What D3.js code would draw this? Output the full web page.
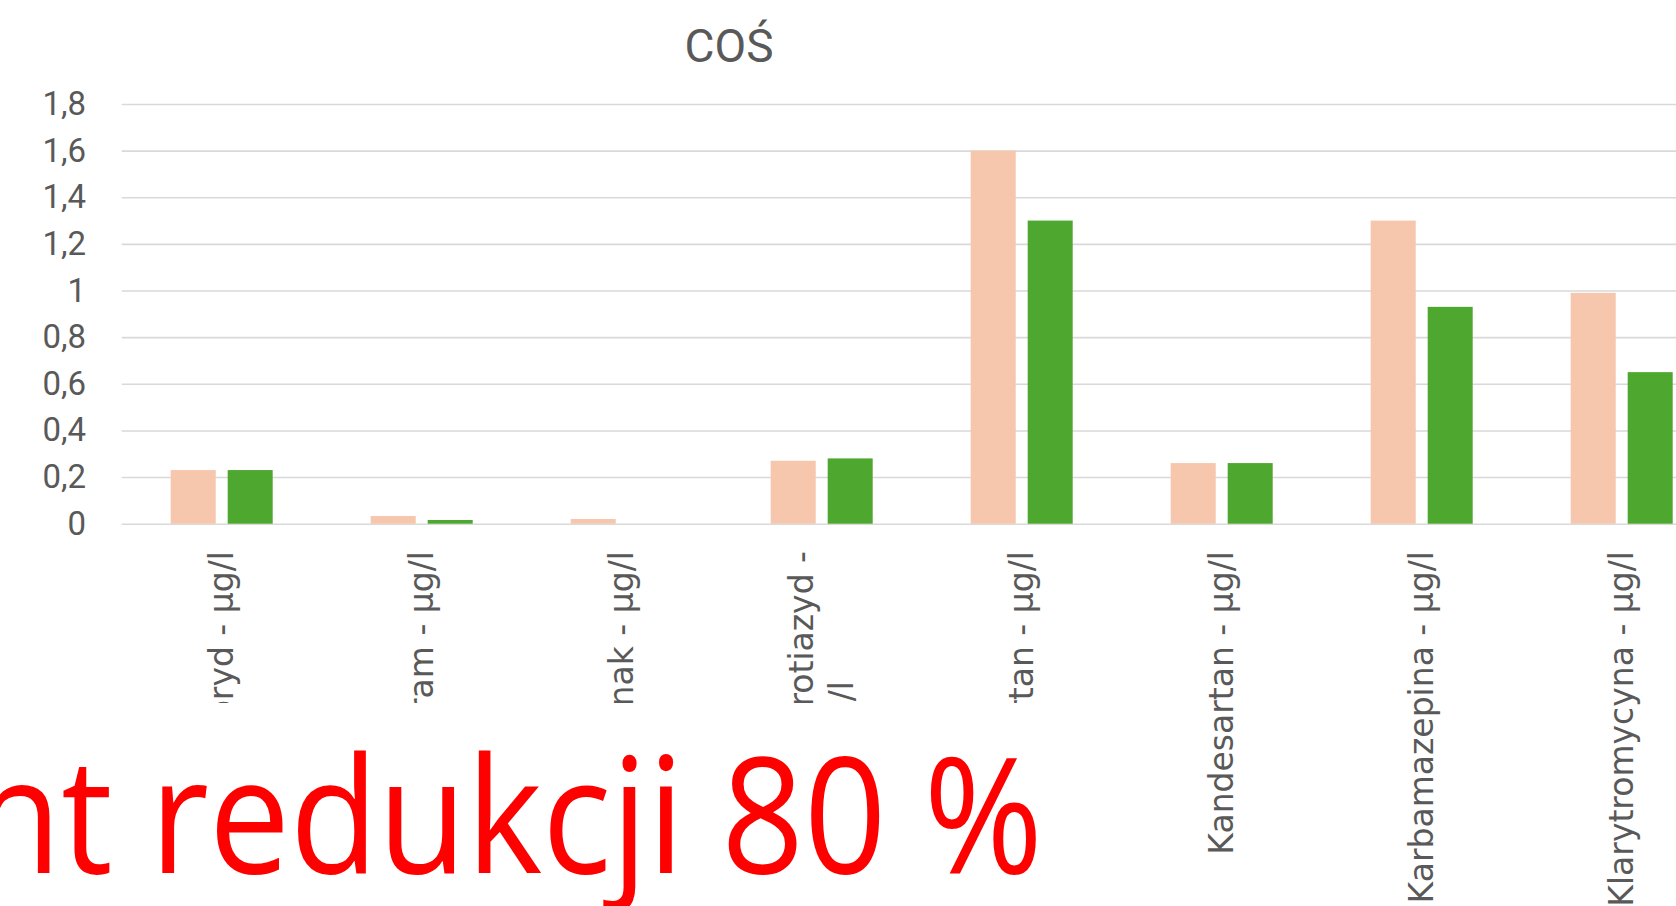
<!DOCTYPE html>
<html>
<head>
<meta charset="utf-8">
<script src="https://d3js.org/d3.v7.min.js"></script>
<style>
  body { margin: 0; background: #fff; }
  svg { display: block; }
</style>
</head>
<body>
<div id="chart"></div>
<script>
// data
var categories = ["Amisulpryd - µg/l", "Citalopram - µg/l", "Diklofenak - µg/l",
                  "Hydrochlorotiazyd -\nµg/l", "Irbesartan - µg/l", "Kandesartan - µg/l",
                  "Karbamazepina - µg/l", "Klarytromycyna - µg/l"];
var seriesNames = ["przed", "po"];
var before = [0.23, 0.033, 0.02, 0.27, 1.6, 0.26, 1.3, 0.99];
var after  = [0.23, 0.016, 0,    0.28, 1.3, 0.26, 0.93, 0.65];
var yTicks = [0, 0.2, 0.4, 0.6, 0.8, 1, 1.2, 1.4, 1.6, 1.8];
var title = "COŚ";
var note = "Procent redukcji 80 %";

var width = 1676, height = 906;
var colors = ["#F6C6AD", "#4EA72E"];

var svg = d3.select("#chart").append("svg")
  .attr("width", width)
  .attr("height", height);

svg.append("rect").attr("width", width).attr("height", height).attr("fill", "#fff");

var left = 121.7;
var x0 = d3.scaleBand().domain(categories).range([left, left + 200 * categories.length]);
var x1 = d3.scaleBand().domain(seriesNames).range([0, x0.bandwidth()])
  .paddingInner(0.21).paddingOuter(0.86);
var y = d3.scaleLinear().domain([0, 1.8]).range([523.7, 104]);

var fmt = function(d) { return d3.format("")(+d.toFixed(1)).replace(".", ","); };

// gridlines
svg.append("g")
  .attr("transform", "translate(" + left + ",0)")
  .call(d3.axisLeft(y).tickValues(yTicks).tickSize(-(width - left)).tickFormat(""))
  .call(function(g) { g.select(".domain").remove(); })
  .selectAll("line")
  .attr("stroke", "#d9d9d9")
  .attr("stroke-width", 1.6);

// y labels
svg.append("g")
  .attr("transform", "translate(" + left + ",0)")
  .call(d3.axisLeft(y).tickValues(yTicks).tickSize(0).tickPadding(35.7).tickFormat(fmt))
  .call(function(g) { g.select(".domain").remove(); })
  .selectAll("text")
  .attr("fill", "#595959")
  .style("font-family", "Roboto")
  .style("font-size", "33px");

// bars
var rows = categories.map(function(c, i) { return {cat: c, vals: [before[i], after[i]]}; });
svg.append("g").selectAll("g")
  .data(rows)
  .join("g")
  .attr("transform", function(d) { return "translate(" + x0(d.cat) + ",0)"; })
  .selectAll("rect")
  .data(function(d) { return d.vals.map(function(v, j) { return {s: seriesNames[j], v: v, j: j}; }); })
  .join("rect")
  .attr("x", function(d) { return x1(d.s); })
  .attr("width", x1.bandwidth())
  .attr("y", function(d) { return y(d.v); })
  .attr("height", function(d) { return y(0) - y(d.v); })
  .attr("fill", function(d) { return colors[d.j]; });

// category labels, rotated, top-aligned block, centred lines
var labelTop = 551;
var lab = svg.append("g").selectAll("text")
  .data(categories)
  .join("text")
  .attr("fill", "#595959")
  .style("font-family", "DejaVu Sans")
  .style("font-size", "33px")
  .attr("text-anchor", "middle");

lab.each(function(c) {
  var t = d3.select(this);
  var lines = c.split("\n");
  var cx = x0(c) + x0.bandwidth() / 2;
  var spans = lines.map(function(l, k) {
    return t.append("tspan").attr("x", 0)
      .attr("dy", k === 0 ? (0.35 - 0.6 * (lines.length - 1)) + "em" : "1.2em")
      .text(l);
  });
  var maxLen = d3.max(spans, function(s) { return s.node().getComputedTextLength(); });
  t.attr("transform", "translate(" + cx + "," + (labelTop + maxLen / 2) + ") rotate(-90)");
});

// title
svg.append("text")
  .attr("x", 729)
  .attr("y", 62)
  .attr("text-anchor", "middle")
  .attr("fill", "#595959")
  .style("font-family", "Roboto")
  .style("font-size", "46px")
  .text(title);

// white text box over the lower part
svg.append("rect")
  .attr("x", 0).attr("y", 703)
  .attr("width", 1120).attr("height", height - 703)
  .attr("fill", "#fff");

svg.append("text")
  .attr("transform", "translate(1043,873) scale(0.89,1)")
  .attr("text-anchor", "end")
  .attr("fill", "#FF0000")
  .style("font-family", "Open Sans")
  .style("font-size", "162px")
  .text(note);
</script>
</body>
</html>
